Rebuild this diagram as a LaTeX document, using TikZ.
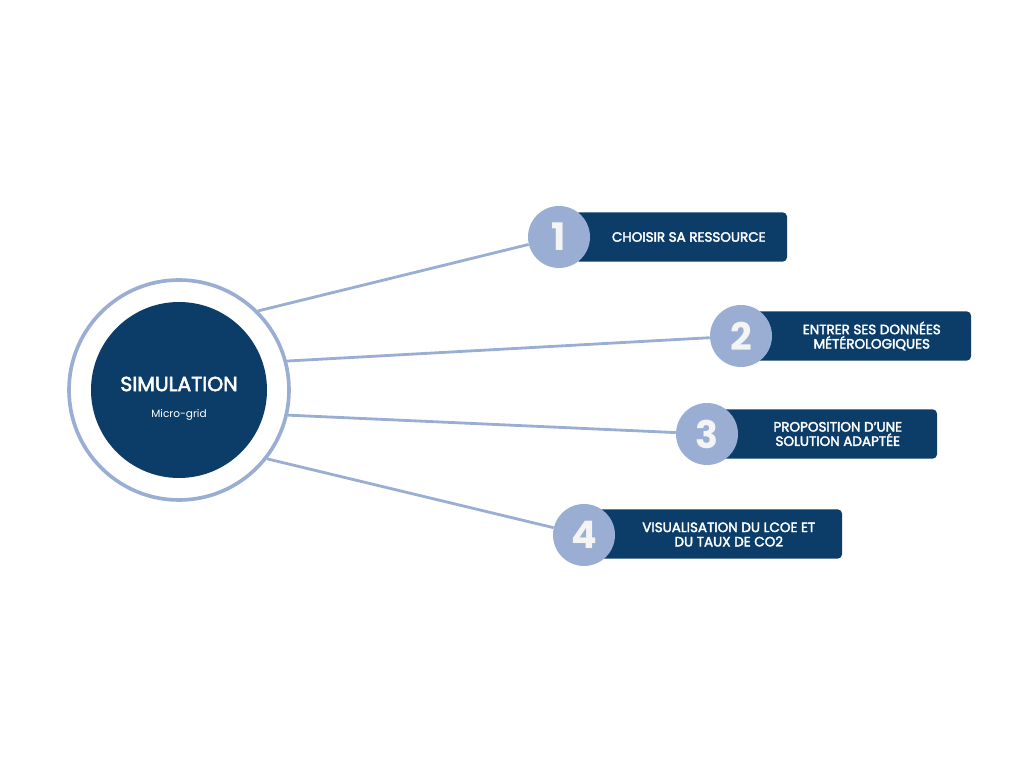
\documentclass[tikz,border=0pt]{standalone}
\usepackage{fontspec}
\setsansfont{Poppins}
\newfontfamily\stepfont{Poppins}[FakeBold=2.6]
\usetikzlibrary{positioning, calc}
\definecolor{simnavy}{HTML}{0C3D69}
\definecolor{simlight}{HTML}{9AAED4}
\definecolor{simnum}{HTML}{F4F4F4}
\tikzset{
  simring/.style  = {circle, draw=simlight, line width=2.6pt, fill=white,
                     minimum size=5.5cm, inner sep=0pt},
  simcore/.style  = {circle, fill=simnavy, minimum size=4.4cm, inner sep=0pt,
                     text=white, align=center},
  stepbox/.style  = {rectangle, rounded corners=3pt, fill=simnavy,
                     minimum height=1.23cm, inner sep=0pt},
  numdot/.style   = {circle, fill=simlight, minimum size=1.55cm, inner sep=0pt,
                     font=\sffamily\bfseries\fontsize{27}{27}\selectfont,
                     text=simnum},
  steptxt/.style  = {font=\stepfont\fontsize{9.6}{10.2}\selectfont,
                     text=white, align=center, inner sep=0pt},
  link/.style     = {draw=simlight, line width=2pt},
}

\begin{document}
\begin{tikzpicture}
  \useasboundingbox (0,0) rectangle (25.6,19.2);
  % centre
  \node[simring] (ring) at (4.475,9.45) {};
  \node[simcore] (core) at (ring.center) {};
  \node[font=\stepfont\fontsize{14.5}{15}\selectfont, text=white]
       (title) at ($(core.center)+(0,0.15)$) {SIMULATION};
  \node[font=\sffamily\fontsize{7.5}{8}\selectfont, text=white,
        below=0.2cm of title] (sub) {Micro-grid};
  % steps
  \node[stepbox, minimum width=5.3cm]   (b1) at (17.025,13.275) {};
  \node[stepbox, minimum width=5.4cm]   (b2) at (21.575,10.8) {};
  \node[stepbox, minimum width=5.425cm] (b3) at (20.7125,8.35) {};
  \node[stepbox, minimum width=6.1cm]   (b4) at (18.0,5.85) {};
  \node[numdot] (n1) at (13.975,13.275) {1};
  \node[numdot] (n2) at (18.525,10.8) {2};
  \node[numdot] (n3) at (17.675,8.35) {3};
  \node[numdot] (n4) at (14.6,5.825) {4};
  \node[steptxt] (t1) at ($(n1.east)!.5!(b1.east)$) {CHOISIR SA RESSOURCE};
  \node[steptxt] (t2) at ($(n2.east)!.5!(b2.east)$) {ENTRER SES DONNÉES\\MÉTÉROLOGIQUES};
  \node[steptxt] (t3) at ($(n3.east)!.5!(b3.east)$) {PROPOSITION D’UNE\\SOLUTION ADAPTÉE};
  \node[steptxt] (t4) at ($(n4.east)!.5!(b4.east)$) {VISUALISATION DU LCOE ET\\DU TAUX DE CO2};
  % links
  \draw[link] (ring.45)  -- (n1);
  \draw[link] (ring.15)  -- (n2);
  \draw[link] (ring.-13) -- (n3);
  \draw[link] (ring.-38) -- (n4);
\end{tikzpicture}
\end{document}
